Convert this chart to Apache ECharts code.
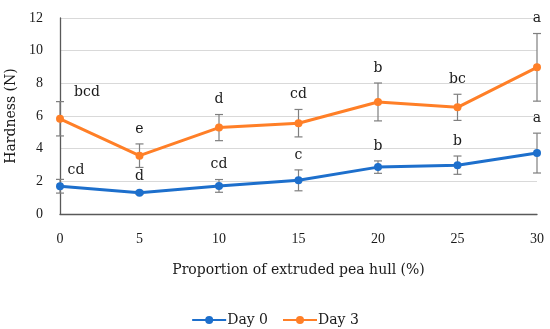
<!DOCTYPE html>
<html><head><meta charset="utf-8">
<script src="https://cdn.jsdelivr.net/npm/echarts@6/dist/echarts.min.js"></script>
<style>html,body{margin:0;padding:0;background:#fff}#c{width:550px;height:329px}</style>
</head><body><div id="c"></div>
<script>
var categories = [0, 5, 10, 15, 20, 25, 30];
var day0 = [1.70, 1.30, 1.72, 2.06, 2.87, 2.99, 3.73];
var day0Err = [0.42, 0.10, 0.39, 0.64, 0.38, 0.56, 1.22];
var day0Letters = ['cd', 'd', 'cd', 'c', 'b', 'b', 'a'];
var day3 = [5.83, 3.57, 5.29, 5.56, 6.86, 6.53, 8.98];
var day3Err = [1.05, 0.72, 0.80, 0.84, 1.16, 0.80, 2.07];
var day3Letters = ['bcd', 'e', 'd', 'cd', 'b', 'bc', 'a'];
var yTicks = [0, 2, 4, 6, 8, 10, 12];

var FONT = '"Liberation Serif", serif';
var WFONT = '"DejaVu Serif", serif';
var BLUE = '#1d6fcc', ORANGE = '#ff7f27', ERR = '#7f7f7f', TXT = '#1a1a1a';

function pairs(vals){ return categories.map(function(c,i){ return [c, vals[i]]; }); }
function errData(vals, errs, letters){
  return categories.map(function(c,i){ return [c, vals[i], errs[i], letters[i]]; });
}
function errSeries(name, vals, errs, letters, firstDx){
  return {
    type: 'custom', name: name + ' err', z: 1, silent: true,
    data: errData(vals, errs, letters),
    encode: {x: 0, y: 1},
    renderItem: function(params, api){
      var x = api.value(0), v = api.value(1), e = api.value(2);
      var idx = params.dataIndex;
      var top = api.coord([x, v + e]);
      var bot = api.coord([x, v - e]);
      var cap = 4;
      var children = [
        {type:'line', shape:{x1:top[0], y1:top[1], x2:bot[0], y2:bot[1]}, style:{stroke:ERR, lineWidth:1.2}},
        {type:'line', shape:{x1:top[0]-cap, y1:top[1], x2:top[0]+cap, y2:top[1]}, style:{stroke:ERR, lineWidth:1.2}},
        {type:'line', shape:{x1:bot[0]-cap, y1:bot[1], x2:bot[0]+cap, y2:bot[1]}, style:{stroke:ERR, lineWidth:1.2}},
        {type:'text', style:{
          text: letters[idx],
          x: top[0] + (idx === 0 ? firstDx : 0),
          y: top[1] - (idx === 0 ? 9 : 15),
          textAlign:'center', textVerticalAlign:'middle',
          font: '14px ' + WFONT, fill: TXT}}
      ];
      return {type:'group', children: children};
    }
  };
}

var chart = echarts.init(document.getElementById('c'));
chart.setOption({
  animation: false,
  textStyle: {fontFamily: FONT},
  grid: {left: 60, right: 13, top: 18, bottom: 115, containLabel: false, outerBoundsMode: 'none'},
  legend: {
    top: 308, left: 'center', itemGap: 14, itemWidth: 34, itemHeight: 10,
    textStyle: {fontFamily: WFONT, fontSize: 14, color: TXT, padding: [0,0,0,-4]},
    data: [{name:'Day 0'}, {name:'Day 3'}]
  },
  xAxis: {
    type: 'value', min: 0, max: 30, interval: 5,
    name: 'Proportion of extruded pea hull (%)', nameLocation: 'middle', nameGap: 49,
    nameTextStyle: {fontFamily: WFONT, fontSize: 14, color: TXT},
    axisLine: {lineStyle: {color: '#595959', width: 1.3}},
    axisTick: {show: false},
    axisLabel: {fontFamily: FONT, fontSize: 14, color: TXT, margin: 18},
    splitLine: {show: false}
  },
  yAxis: {
    type: 'value', min: 0, max: 12, interval: 2,
    name: 'Hardness (N)', nameLocation: 'middle', nameGap: 40,
    nameTextStyle: {fontFamily: WFONT, fontSize: 14, color: TXT},
    axisLine: {show: true, lineStyle: {color: '#595959', width: 1.3}},
    axisTick: {show: false},
    axisLabel: {fontFamily: FONT, fontSize: 14, color: TXT, margin: 17,
      formatter: function(v){ return yTicks.indexOf(v) >= 0 ? String(v) : ''; }},
    splitLine: {lineStyle: {color: '#d9d9d9', width: 1}}
  },
  series: [
    errSeries('Day 0', day0, day0Err, day0Letters, 16),
    errSeries('Day 3', day3, day3Err, day3Letters, 27),
    {name:'Day 0', type:'line', data: pairs(day0), z: 3, symbol:'circle', symbolSize: 8,
      lineStyle:{color: BLUE, width: 3}, itemStyle:{color: BLUE}},
    {name:'Day 3', type:'line', data: pairs(day3), z: 3, symbol:'circle', symbolSize: 8,
      lineStyle:{color: ORANGE, width: 3}, itemStyle:{color: ORANGE}}
  ]
});
</script></body></html>
